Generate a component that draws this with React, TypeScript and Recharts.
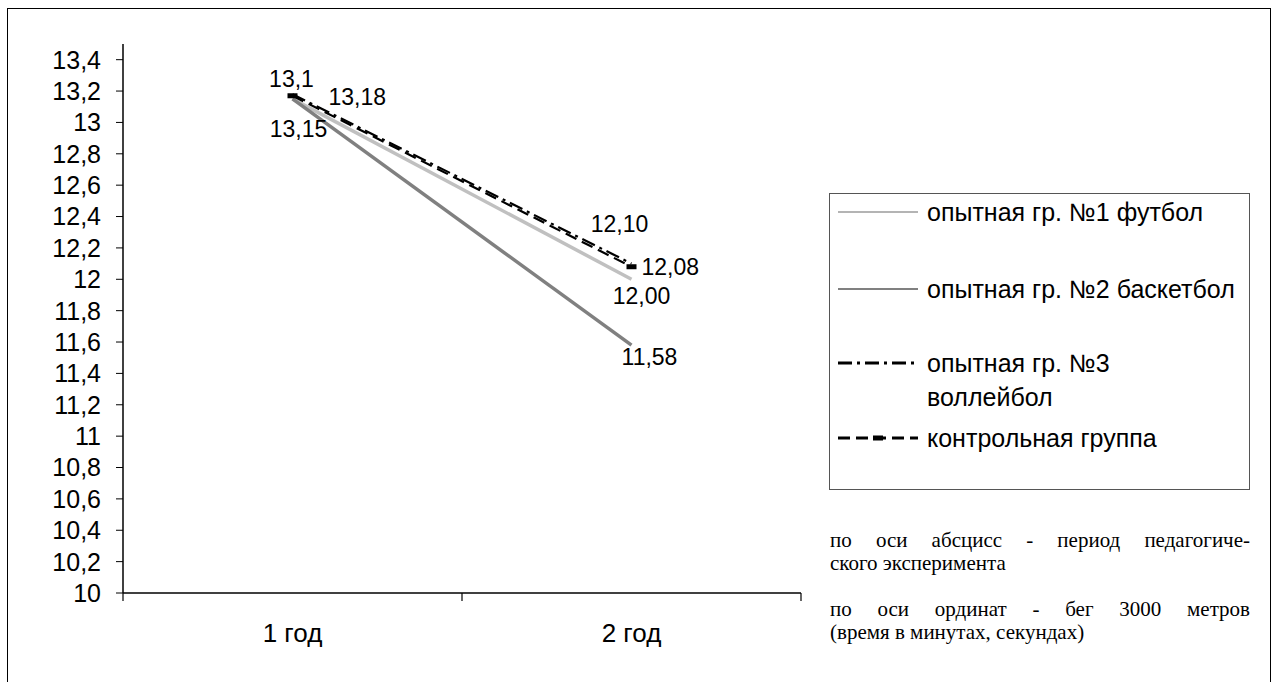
import React from "react";
import { LineChart, Line, XAxis, YAxis, Legend, LabelList } from "recharts";

const years = ["1 год", "2 год"];
const football = [13.15, 12.0];
const basketball = [13.15, 11.58];
const volleyball = [13.18, 12.1];
const control = [13.17, 12.08];

const footballLabels = ["13,15", "12,00"];
const basketballLabels = ["", "11,58"];
const volleyballLabels = ["13,18", "12,10"];
const controlLabels = ["13,1", "12,08"];

const yTicks = [10, 10.2, 10.4, 10.6, 10.8, 11, 11.2, 11.4, 11.6, 11.8, 12, 12.2, 12.4, 12.6, 12.8, 13, 13.2, 13.4];
const xTicks = [0, 0.5, 1, 1.5, 2];

const seriesNames = [
  "опытная гр. №1 футбол",
  "опытная гр. №2 баскетбол",
  "опытная гр. №3 воллейбол",
  "контрольная группа",
];

const noteX = ["по оси абсцисс - период педагогиче-", "ского эксперимента"];
const noteY = ["по оси ординат - бег 3000 метров", "(время в минутах, секундах)"];

const data = years.map((year, i) => ({
  pos: i + 0.5,
  year,
  football: football[i],
  basketball: basketball[i],
  volleyball: volleyball[i],
  control: control[i],
}));

const SANS = "'Liberation Sans', Arial, sans-serif";
const SERIF = "'Liberation Serif', 'Times New Roman', serif";

type Place = { dx: number; dy: number; anchor: "start" | "middle" | "end" };

const makeLabel = (texts: string[], places: Place[]) => (props: any) => {
  const { x, y, index } = props;
  const t = texts[index];
  if (!t) return null;
  const p = places[index];
  return (
    <text
      x={x + p.dx}
      y={y + p.dy}
      textAnchor={p.anchor}
      dominantBaseline="central"
      fontFamily={SANS}
      fontSize={23}
      fill="#000"
    >
      {t}
    </text>
  );
};

const XTick = (props: any) => {
  const { x, y, payload } = props;
  const v = payload.value;
  if (Number.isInteger(v)) {
    return <line x1={x} x2={x} y1={y} y2={y + 8} stroke="#000" strokeWidth={1.2} />;
  }
  return (
    <text x={x} y={y + 40} textAnchor="middle" dominantBaseline="central" fontFamily={SANS} fontSize={26} fill="#000">
      {years[Math.floor(v)]}
    </text>
  );
};

const ControlDot = (props: any) => {
  const { cx, cy } = props;
  return <rect x={cx - 5} y={cy - 2.5} width={10} height={5} fill="#000" />;
};

const legendRows = [
  { top: 18, stroke: "#b4b4b4", width: 2, dash: undefined as string | undefined, marker: false },
  { top: 95, stroke: "#808080", width: 2, dash: undefined, marker: false },
  { top: 169, stroke: "#000", width: 3, dash: "14 5 3 5", marker: false },
  { top: 244, stroke: "#000", width: 3, dash: "12 6", marker: true },
];

const LegendBox = () => (
  <div style={{ position: "relative", width: 421, height: 299, fontFamily: SANS, fontSize: 25, color: "#000" }}>
    {legendRows.map((r, i) => (
      <div key={i} style={{ position: "absolute", left: 0, top: r.top - 15, width: 421 }}>
        <svg width={90} height={30} style={{ position: "absolute", left: 8, top: 0 }}>
          <line x1={0} x2={80} y1={15} y2={15} stroke={r.stroke} strokeWidth={r.width} strokeDasharray={r.dash} />
          {r.marker && <rect x={35} y={12.5} width={10} height={5} fill="#000" />}
        </svg>
        <div style={{ position: "absolute", left: 97, top: 0, lineHeight: "30px", width: 330, whiteSpace: "nowrap" }}>
          {i === 2 ? (
            <>
              опытная гр. №3
              <br />
              <span style={{ display: "inline-block", marginTop: 4 }}>воллейбол</span>
            </>
          ) : (
            seriesNames[i]
          )}
        </div>
      </div>
    ))}
  </div>
);

const lineStyle = (justify: boolean): React.CSSProperties => ({
  textAlign: "justify",
  textAlignLast: justify ? "justify" : "left",
  lineHeight: "23px",
  whiteSpace: "nowrap",
});

export default function App() {
  return (
    <div style={{ position: "absolute", left: 0, top: 0, width: 1277, height: 682, background: "#fff", overflow: "hidden" }}>
      <div
        style={{
          position: "absolute",
          left: 7,
          top: 8,
          width: 1262,
          height: 674,
          borderLeft: "1.5px solid #000",
          borderTop: "1.5px solid #000",
          borderRight: "1.5px solid #000",
        }}
      />
      <div style={{ position: "absolute", left: 0, top: 0 }}>
        <LineChart width={1277} height={682} data={data} margin={{ top: 44, right: 476, left: 0, bottom: 0 }}>
          <XAxis
            dataKey="pos"
            type="number"
            domain={[0, 2]}
            ticks={xTicks}
            interval={0}
            height={89}
            tickSize={0}
            tickMargin={0}
            tickLine={false}
            axisLine={{ stroke: "#000", strokeWidth: 1.5 }}
            tick={<XTick />}
          />
          <XAxis
            xAxisId="top"
            orientation="top"
            type="number"
            domain={[0, 2]}
            height={0}
            tick={false}
            tickLine={false}
            axisLine={{ stroke: "#8c8c8c", strokeWidth: 2.5 }}
          />
          <YAxis
            domain={[10, 13.5]}
            ticks={yTicks}
            interval={0}
            width={123}
            tickSize={7}
            tickMargin={15}
            axisLine={{ stroke: "#000", strokeWidth: 1.5 }}
            tickLine={{ stroke: "#000" }}
            tick={{ fill: "#000", fontSize: 25, fontFamily: SANS }}
            tickFormatter={(v: number) => String(v).replace(".", ",")}
          />
          <YAxis
            yAxisId="right"
            orientation="right"
            domain={[0, 1]}
            width={0}
            tick={false}
            tickLine={false}
            axisLine={{ stroke: "#8c8c8c", strokeWidth: 2.5 }}
          />
          <Legend
            layout="vertical"
            align="center"
            verticalAlign="middle"
            content={() => <LegendBox />}
            wrapperStyle={{
              left: 829,
              top: 193,
              width: 421,
              height: 297,
              border: "1.5px solid #555",
              boxSizing: "border-box",
              background: "#fff",
            }}
          />
          <Line
            dataKey="football"
            name={seriesNames[0]}
            stroke="#c0c0c0"
            strokeWidth={3.5}
            dot={false}
            isAnimationActive={false}
          >
            <LabelList
              dataKey="football"
              content={makeLabel(footballLabels, [
                { dx: 6, dy: 30, anchor: "middle" },
                { dx: 10, dy: 17, anchor: "middle" },
              ])}
            />
          </Line>
          <Line
            dataKey="basketball"
            name={seriesNames[1]}
            stroke="#808080"
            strokeWidth={3.5}
            dot={false}
            isAnimationActive={false}
          >
            <LabelList
              dataKey="basketball"
              content={makeLabel(basketballLabels, [
                { dx: 0, dy: 0, anchor: "middle" },
                { dx: 18, dy: 12, anchor: "middle" },
              ])}
            />
          </Line>
          <Line
            dataKey="volleyball"
            name={seriesNames[2]}
            stroke="#000"
            strokeWidth={2.2}
            strokeDasharray="14 5 3 5"
            dot={false}
            isAnimationActive={false}
          >
            <LabelList
              dataKey="volleyball"
              content={makeLabel(volleyballLabels, [
                { dx: 36, dy: 3, anchor: "start" },
                { dx: -12, dy: -40, anchor: "middle" },
              ])}
            />
          </Line>
          <Line
            dataKey="control"
            name={seriesNames[3]}
            stroke="#000"
            strokeWidth={2.2}
            strokeDasharray="12 6"
            dot={<ControlDot />}
            isAnimationActive={false}
          >
            <LabelList
              dataKey="control"
              content={makeLabel(controlLabels, [
                { dx: -1, dy: -17, anchor: "middle" },
                { dx: 10, dy: 0, anchor: "start" },
              ])}
            />
          </Line>
        </LineChart>
      </div>
      <div style={{ position: "absolute", left: 830, top: 529, width: 420, fontFamily: SERIF, fontSize: 21, color: "#000" }}>
        <div style={lineStyle(true)}>{noteX[0]}</div>
        <div style={lineStyle(false)}>{noteX[1]}</div>
        <div style={{ height: 23 }} />
        <div style={lineStyle(true)}>{noteY[0]}</div>
        <div style={lineStyle(false)}>{noteY[1]}</div>
      </div>
    </div>
  );
}
